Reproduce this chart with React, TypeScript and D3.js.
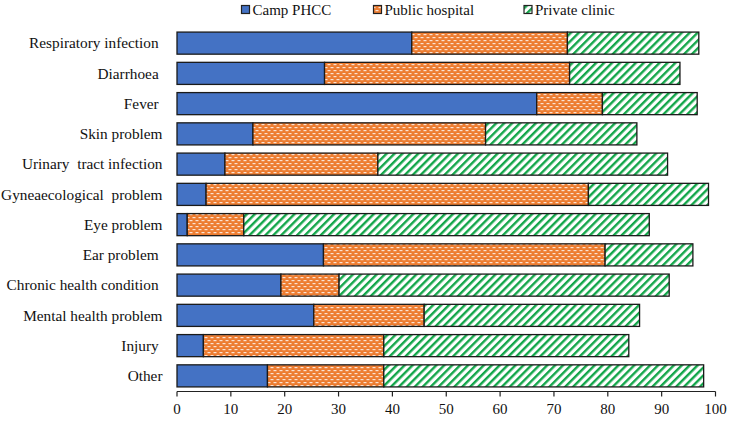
import React from "react";
import * as d3 from "d3";

const categories = [
  "Respiratory infection ",
  "Diarrhoea ",
  "Fever ",
  "Skin problem",
  "Urinary  tract infection",
  "Gyneaecological  problem",
  "Eye problem",
  "Ear problem ",
  "Chronic health condition ",
  "Mental health problem",
  "Injury ",
  "Other",
];
const campPHCC = [43.6, 27.4, 66.8, 14.1, 8.9, 5.4, 1.9, 27.2, 19.3, 25.4, 4.9, 16.8];
const publicHospital = [28.9, 45.5, 12.2, 43.2, 28.4, 71.0, 10.5, 52.3, 10.8, 20.5, 33.5, 21.6];
const privateClinic = [24.4, 20.5, 17.6, 28.1, 53.8, 22.3, 75.3, 16.3, 61.3, 40.0, 45.5, 59.4];
const seriesNames = ["Camp PHCC", "Public hospital", "Private clinic"];
const xTicks = [0, 10, 20, 30, 40, 50, 60, 70, 80, 90, 100];

const W = 748;
const H = 421;
const margin = { left: 177, right: 32.5, top: 28, bottom: 30 };
const FONT = '"Liberation Serif", "Times New Roman", Times, "DejaVu Serif", serif';

export default function App() {
  const x = d3.scaleLinear().domain([0, 100]).range([margin.left, W - margin.right]);
  const y = d3
    .scaleBand<string>()
    .domain(categories)
    .range([margin.top, H - margin.bottom])
    .paddingInner(0.27)
    .paddingOuter(0.135);

  const rows = categories.map((c, i) => {
    const vals = [campPHCC[i], publicHospital[i], privateClinic[i]];
    let acc = 0;
    return vals.map((v) => {
      const s = { x0: acc, x1: acc + v };
      acc += v;
      return s;
    });
  });
  const fills = ["#4472C4", "url(#orangeDots)", "url(#greenStripes)"];
  const axisY = 391.5;
  const legendX = [241.5, 373.5, 524];

  return (
    <div style={{ position: "absolute", left: 0, top: 0, fontFamily: FONT }}>
      <svg width={W} height={H} style={{ display: "block", background: "#fff", fontFamily: FONT }}>
        <defs>
          <pattern id="orangeDots" width="6" height="6" patternUnits="userSpaceOnUse">
            <rect width="6" height="6" fill="#ED7D31" />
            <rect x="0.5" y="1" width="3" height="1.2" fill="#FBE3D3" />
            <rect x="3.5" y="4" width="3" height="1.2" fill="#FBE3D3" />
            <rect x="-2.5" y="4" width="3" height="1.2" fill="#FBE3D3" />
          </pattern>
          <pattern
            id="greenStripes"
            width="5.6"
            height="5.6"
            patternUnits="userSpaceOnUse"
            patternTransform="rotate(45)"
          >
            <rect width="5.6" height="5.6" fill="#ffffff" />
            <rect x="0" y="0" width="2.4" height="5.6" fill="#13A64A" />
          </pattern>
        </defs>

        {/* Legend */}
        {seriesNames.map((n, i) => (
          <g key={n}>
            <rect
              x={legendX[i]}
              y={5.5}
              width={8}
              height={8}
              fill={fills[i]}
              stroke="#222"
              strokeWidth={1.2}
            />
            <text x={legendX[i] + 11} y={15} fontSize={15} fill="#111">
              {n}
            </text>
          </g>
        ))}

        {/* Bars */}
        {categories.map((c, i) => (
          <g key={c}>
            {rows[i].map((s, j) => (
              <rect
                key={j}
                x={x(s.x0)}
                y={y(c)!}
                width={x(s.x1) - x(s.x0)}
                height={y.bandwidth()}
                fill={fills[j]}
                stroke="#1a1a1a"
                strokeWidth={1.3}
              />
            ))}
            <text
              x={162.5}
              y={y(c)! + y.bandwidth() / 2}
              dy="0.35em"
              textAnchor="end"
              fontSize={15.3}
              fill="#111"
              style={{ whiteSpace: "pre" }}
            >
              {c}
            </text>
          </g>
        ))}

        {/* X axis */}
        <line x1={x(0)} x2={x(100)} y1={axisY} y2={axisY} stroke="#222" strokeWidth={1.2} />
        {xTicks.map((t) => (
          <g key={t}>
            <line x1={x(t)} x2={x(t)} y1={axisY} y2={axisY + 5} stroke="#222" strokeWidth={1.2} />
            <text x={x(t)} y={414} textAnchor="middle" fontSize={15} fill="#111">
              {t}
            </text>
          </g>
        ))}
      </svg>
    </div>
  );
}
